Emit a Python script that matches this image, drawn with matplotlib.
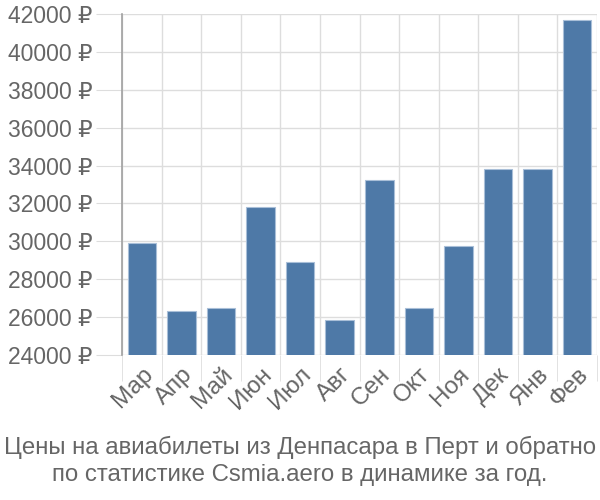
import matplotlib.pyplot as plt
import numpy as np
from matplotlib.ticker import FixedLocator, FuncFormatter

plt.rcParams['font.family'] = ['Liberation Sans', 'DejaVu Sans']

months = ['Мар', 'Апр', 'Май', 'Июн', 'Июл', 'Авг', 'Сен', 'Окт', 'Ноя', 'Дек', 'Янв', 'Фев']
prices = [29900, 26300, 26500, 31800, 28900, 25850, 33250, 26500, 29750, 33800, 33800, 41700]
title = 'Цены на авиабилеты из Денпасара в Перт и обратно\nпо статистике Csmia.aero в динамике за год.'

grey = '#666666'
grid_c = '#dddddd'

fig = plt.figure(figsize=(6, 5), dpi=100)
ax = fig.add_axes([122 / 600, 145 / 500, 475 / 600, 341 / 500])

x = np.arange(len(months))
ax.bar(x, prices, width=0.72, color='#4e79a7', edgecolor='#a9bfd8', linewidth=0.8, zorder=3)

ax.set_xlim(-0.5, len(months) - 0.5)
ax.set_ylim(24000, 42000)
ax.set_yticks(np.arange(24000, 42001, 2000))
ax.yaxis.set_major_formatter(FuncFormatter(lambda v, p: f'{int(v)} ₽'))

ax.set_xticks(x)
ax.set_xticklabels(months, rotation=45, ha='right', rotation_mode='anchor')
ax.xaxis.set_minor_locator(FixedLocator(np.arange(-0.5, len(months), 1.0)))

ax.grid(axis='y', which='major', color=grid_c, linewidth=1, zorder=0)
ax.grid(axis='x', which='minor', color=grid_c, linewidth=1, zorder=0)

ax.tick_params(axis='y', which='major', length=19, color=grid_c, labelsize=16.5, labelcolor=grey, pad=2)
ax.tick_params(axis='x', which='major', length=0, labelsize=17.5, labelcolor=grey, pad=6)
ax.tick_params(axis='x', which='minor', length=19, color=grid_c)

for s in ['top', 'right', 'bottom']:
    ax.spines[s].set_visible(False)
ax.spines['left'].set_color('#a0a0a0')
ax.spines['left'].set_linewidth(1.2)

fig.text(0.5, 0.078, title, ha='center', va='center', fontsize=17.3, color=grey, linespacing=1.3)

fig.savefig('out.png', dpi=100)
